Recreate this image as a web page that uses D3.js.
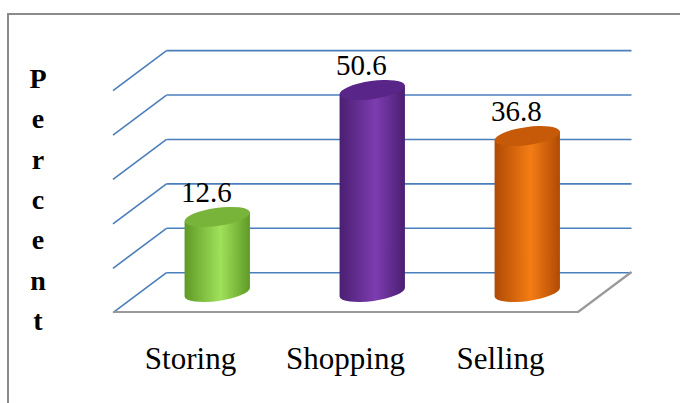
<!DOCTYPE html>
<html>
<head>
<meta charset="utf-8">
<script src="https://cdn.jsdelivr.net/npm/d3@7"></script>
<style>
  html, body { margin: 0; padding: 0; background: #fff; }
  svg { display: block; }
</style>
</head>
<body>
<script>
// ---- data ----
const categories = ["Storing", "Shopping", "Selling"];
const values = [12.6, 50.6, 36.8];
const valueLabels = ["12.6", "50.6", "36.8"];
const gridTicks = [0, 10, 20, 30, 40, 50];
const axisTitleLetters = ["P", "e", "r", "c", "e", "n", "t"];
const barColors = [
  { edge: "#5f9a26", mid: "#9fe15a", top: "#78b43a" },
  { edge: "#4a1f72", mid: "#7d3cb0", top: "#5a2588" },
  { edge: "#b04a04", mid: "#f47c14", top: "#c65a08" }
];

const W = 680, H = 403;
const svg = d3.select("body").append("svg").attr("width", W).attr("height", H);
const defs = svg.append("defs");

// geometry of the 3D box
const frontLeft = 113, frontRight = 578, frontY = 312;
const depthDX = 53.5, depthDY = -40;

// scales
const xFront = d3.scaleBand().domain(categories).range([frontLeft, frontRight]);
const yWall = d3.scaleLinear().domain([0, 50]).range([frontY + depthDY + 0.7, 50.6]);
const barBaseY = frontY + depthDY / 2;
const yBar = d3.scaleLinear().domain([0, 50]).range([barBaseY - 33, barBaseY - 33 - 50 * 3.34]);

// outer border
svg.append("rect").attr("x", 8).attr("y", 14).attr("width", 690).attr("height", 420)
  .attr("fill", "none").attr("stroke", "#8a8a8a").attr("stroke-width", 2);

// floor
const bx0 = frontLeft + depthDX, bx1 = frontRight + depthDX, by = frontY + depthDY;
svg.append("path")
  .attr("d", `M${frontLeft},${frontY} L${bx0},${by} L${bx1},${by} L${frontRight},${frontY} Z`)
  .attr("fill", "#fff");

// gridlines on back wall + left side wall
const gridColor = "#4a7ebb";
gridTicks.forEach(t => {
  const y = yWall(t);
  svg.append("line").attr("x1", bx0).attr("x2", bx1).attr("y1", y).attr("y2", y)
    .attr("stroke", gridColor).attr("stroke-width", 1.6);
  svg.append("line").attr("x1", bx0).attr("y1", y).attr("x2", bx0 - depthDX).attr("y2", y - depthDY)
    .attr("stroke", gridColor).attr("stroke-width", 1.6);
});

// floor front edges (gray)
svg.append("path")
  .attr("d", `M${frontLeft},${frontY} L${frontRight},${frontY} L${bx1},${by}`)
  .attr("fill", "none").attr("stroke", "#9a9a9a").attr("stroke-width", 2.2)
  .attr("stroke-linejoin", "round");

// cylinders
const rx = 33, ry = 9, rot = -8;
const th = rot * Math.PI / 180;
const ax = rx * Math.cos(th), ay = rx * Math.sin(th);

categories.forEach((c, i) => {
  const cx = xFront(c) + xFront.bandwidth() / 2 + depthDX / 2;
  const topY = yBar(values[i]);
  const col = barColors[i];
  const gid = "g" + i;
  const g = defs.append("linearGradient").attr("id", gid).attr("x1", "0").attr("x2", "1").attr("y1", "0").attr("y2", "0");
  g.append("stop").attr("offset", "0%").attr("stop-color", col.edge);
  g.append("stop").attr("offset", "55%").attr("stop-color", col.mid);
  g.append("stop").attr("offset", "100%").attr("stop-color", col.edge);

  const lx = cx - ax, ly = -ay, rxp = cx + ax, ryp = ay;
  svg.append("path")
    .attr("d", `M${lx},${topY + ly} L${lx},${barBaseY + ly} A${rx},${ry} ${rot} 0 0 ${rxp},${barBaseY + ryp} L${rxp},${topY + ryp} Z`)
    .attr("fill", `url(#${gid})`);
  svg.append("ellipse").attr("cx", cx).attr("cy", topY).attr("rx", rx).attr("ry", ry)
    .attr("transform", `rotate(${rot},${cx},${topY})`)
    .attr("fill", col.top);

  svg.append("text").attr("x", cx - 11).attr("y", topY - 15)
    .attr("text-anchor", "middle")
    .attr("font-family", "'Liberation Serif', 'Times New Roman', serif")
    .attr("font-size", 29).attr("fill", "#000")
    .text(valueLabels[i]);
});

// category labels
svg.selectAll("text.cat").data(categories).enter().append("text")
  .attr("class", "cat")
  .attr("x", d => xFront(d) + xFront.bandwidth() / 2)
  .attr("y", 369)
  .attr("text-anchor", "middle")
  .attr("font-family", "'Liberation Serif', 'Times New Roman', serif")
  .attr("font-size", 31).attr("fill", "#000")
  .text(d => d);

// vertical axis title
svg.selectAll("text.ttl").data(axisTitleLetters).enter().append("text")
  .attr("class", "ttl")
  .attr("x", 38)
  .attr("y", (d, i) => 88 + i * 40.3)
  .attr("text-anchor", "middle")
  .attr("font-family", "'Liberation Serif', 'Times New Roman', serif")
  .attr("font-weight", "bold")
  .attr("font-size", 28).attr("fill", "#000")
  .text(d => d);
</script>
</body>
</html>
